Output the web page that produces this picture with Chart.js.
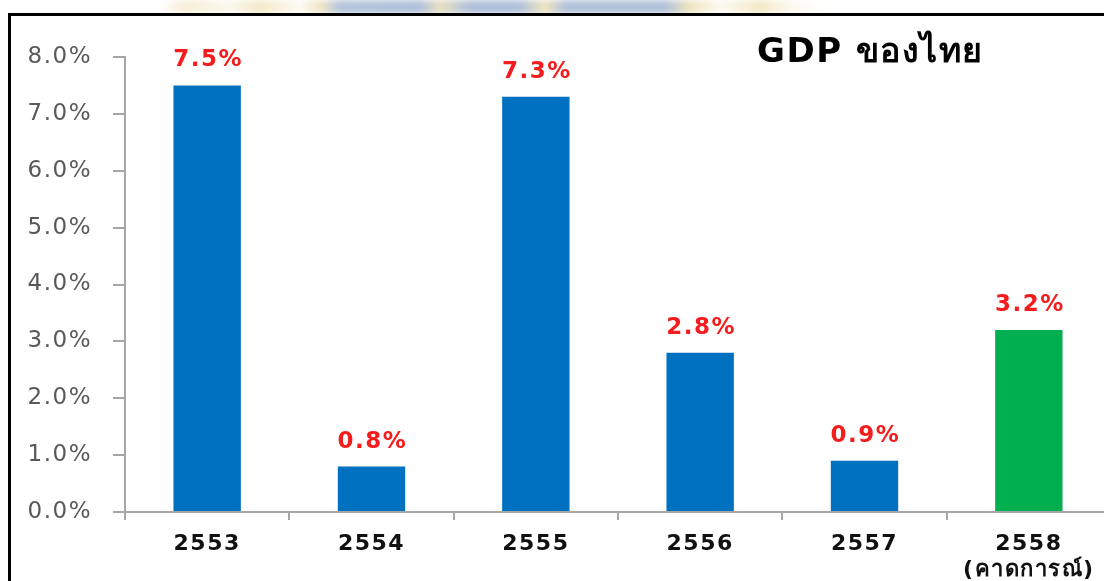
<!DOCTYPE html>
<html lang="th">
<head>
<meta charset="utf-8">
<title>GDP ของไทย</title>
<script src="https://cdn.jsdelivr.net/npm/chart.js@4.4.1/dist/chart.umd.min.js"></script>
<style>
  html, body { margin: 0; padding: 0; background: #fff; overflow: hidden; width: 1104px; height: 581px; }
  #crest {
    position: absolute; left: 0; top: 0; width: 1104px; height: 14px;
    background: linear-gradient(90deg,
      #ffffff 0px, #ffffff 160px, #f6eed6 185px, #fbf8ef 230px, #f4e9c8 260px, #fdfbf6 300px,
      #f2e7c6 320px, #b4c4dc 340px, #afc0da 420px, #e9e0c0 440px, #afc0da 470px, #afc0da 520px,
      #f1e5c0 545px, #b0c1da 565px, #b0c1da 665px, #f0e4bf 690px, #fdfaf3 720px, #f3e8c7 760px,
      #fcf9f0 790px, #ffffff 830px, #ffffff 1104px);
    filter: blur(3px);
  }
  #frame {
    position: absolute; left: 8px; top: 13px; width: 1200px; height: 700px;
    border: 3px solid #000; box-sizing: border-box; background: #fff;
  }
  #wrap { position: absolute; left: 0; top: 0; width: 1130px; height: 581px; }
</style>
</head>
<body>
<div id="crest"></div>
<div id="frame"></div>
<div id="wrap"><canvas id="gdp" width="1130" height="581"></canvas></div>
<script>
// Thai GDP growth by Buddhist-era year (last year is a forecast)
const years = ['2553', '2554', '2555', '2556', '2557', ['2558', '(คาดการณ์)']];
const growth = [7.5, 0.8, 7.3, 2.8, 0.9, 3.2];
const barColors = ['#0070c0', '#0070c0', '#0070c0', '#0070c0', '#0070c0', '#00b050'];
const yTicks = [0, 1, 2, 3, 4, 5, 6, 7, 8];
const chartTitle = 'GDP ของไทย';

const AXIS_GREY = '#a6a6a6';
const FONT = '"DejaVu Sans", "Noto Sans", sans-serif';

// Value labels above each bar plus the heading in the top-right corner
const annotate = {
  id: 'annotate',
  beforeDraw(chart) {
    chart.ctx.letterSpacing = '1.5px';
  },
  afterDatasetsDraw(chart) {
    const ctx = chart.ctx;
    const meta = chart.getDatasetMeta(0);
    ctx.save();
    ctx.letterSpacing = '1.5px';
    ctx.font = 'bold 23px ' + FONT;
    ctx.fillStyle = '#f41c1c';
    ctx.textAlign = 'center';
    ctx.textBaseline = 'alphabetic';
    meta.data.forEach((bar, i) => {
      ctx.fillText(growth[i].toFixed(1) + '%', bar.x + 1, bar.y - 19);
    });
    ctx.letterSpacing = '1.5px';
    ctx.font = 'bold 34px ' + FONT;
    ctx.fillStyle = '#000';
    ctx.textAlign = 'left';
    ctx.fillText(chartTitle, 757, 62);
    ctx.restore();
  }
};

new Chart(document.getElementById('gdp'), {
  type: 'bar',
  data: {
    labels: years,
    datasets: [{
      data: growth,
      backgroundColor: barColors,
      borderWidth: 0,
      categoryPercentage: 1,
      barPercentage: 0.41
    }]
  },
  options: {
    responsive: false,
    animation: false,
    devicePixelRatio: 1,
    layout: { padding: { top: 57, right: 19, left: 0, bottom: 0 } },
    plugins: {
      legend: { display: false },
      title: { display: false },
      tooltip: { enabled: false }
    },
    scales: {
      x: {
        offset: true,
        grid: {
          display: true, offset: true, drawOnChartArea: false, drawTicks: true,
          tickLength: 8, color: AXIS_GREY, lineWidth: 2
        },
        border: { display: true, color: AXIS_GREY, width: 2 },
        ticks: {
          color: '#111', padding: 11, maxRotation: 0, autoSkip: false,
          font: { family: FONT, size: 22, weight: 'bold', lineHeight: 1.2 }
        },
        afterFit(scale) { scale.height = 69; }
      },
      y: {
        min: 0, max: 8,
        afterBuildTicks(scale) { scale.ticks = yTicks.map(v => ({ value: v })); },
        grid: {
          display: true, drawOnChartArea: false, drawTicks: true,
          tickLength: 12, color: AXIS_GREY, lineWidth: 2
        },
        border: { display: true, color: AXIS_GREY, width: 2 },
        ticks: {
          color: '#595959', padding: 21,
          font: { family: FONT, size: 23 },
          callback: v => v.toFixed(1) + '%'
        },
        afterFit(scale) { scale.width = 125; }
      }
    }
  },
  plugins: [annotate]
});
</script>
</body>
</html>
